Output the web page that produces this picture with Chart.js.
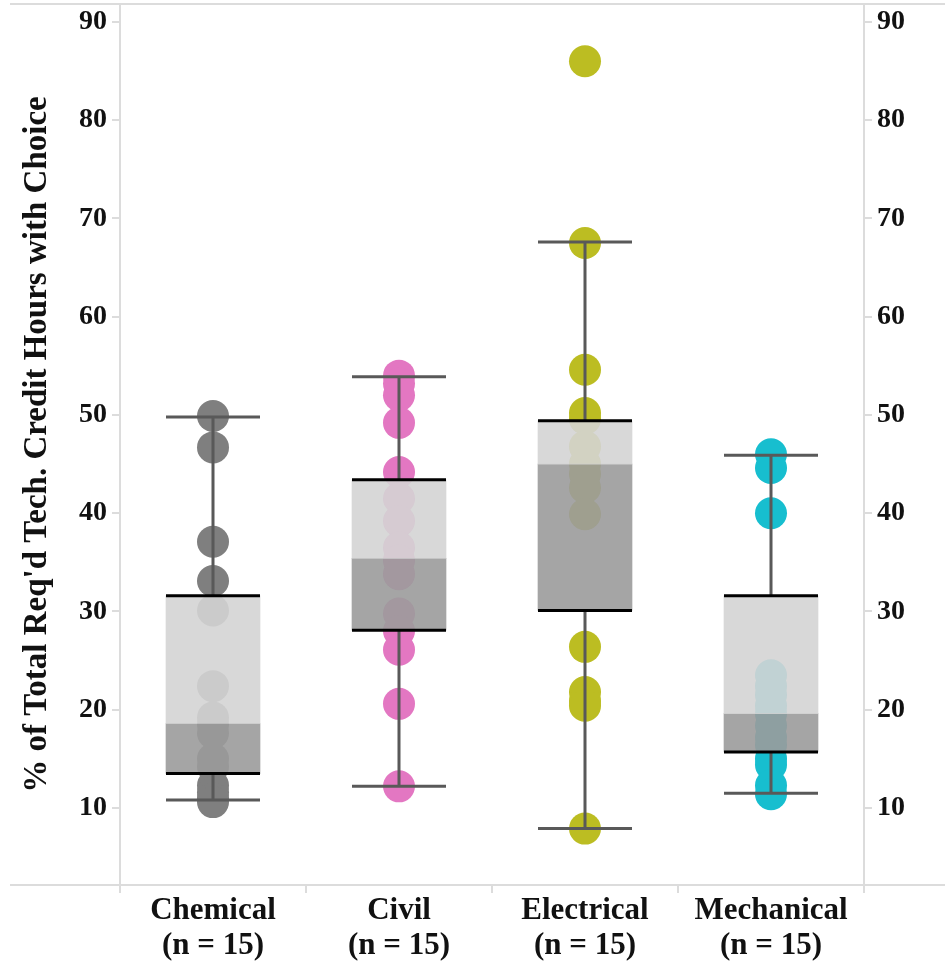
<!DOCTYPE html>
<html>
<head>
  <title>Tech Credit Hours with Choice</title>
  <script src="https://cdn.jsdelivr.net/npm/chart.js"></script>
  <style>
    body {
      margin: 0;
      background: #fff;
    }
    .chart-box {
      width: 945px;
      height: 968px;
    }
  </style>
</head>
<body>
  <div class="chart-box">
    <canvas id="boxChart"></canvas>
  </div>

  <script>
    // Data
    const categories = ['Chemical', 'Civil', 'Electrical', 'Mechanical'];
    const countLabels = ['(n = 15)', '(n = 15)', '(n = 15)', '(n = 15)'];
    const yTicks = [10, 20, 30, 40, 50, 60, 70, 80, 90];

    const chemicalPts = [49.9, 46.7, 37.1, 33.1, 30.1, 22.4, 19.2, 18.5, 17.6, 15.0, 14.2, 12.3, 11.6, 11.0, 10.6];
    const civilPts = [54.0, 53.2, 52.0, 49.2, 44.2, 41.5, 39.2, 36.5, 35.2, 33.8, 29.8, 28.0, 26.1, 20.6, 12.2];
    const electricalPts = [86.0, 67.5, 54.6, 50.2, 49.6, 46.8, 45.0, 44.0, 42.6, 39.9, 26.4, 21.8, 20.9, 20.4, 7.9];
    const mechanicalPts = [46.0, 44.6, 40.0, 23.5, 22.4, 21.5, 20.4, 19.6, 18.4, 17.2, 16.4, 15.0, 14.4, 12.3, 11.4];

    const whiskerHigh = [49.8, 53.9, 67.6, 45.9];
    const upperQuartile = [31.6, 43.4, 49.4, 31.6];
    const medians = [18.6, 35.4, 45.0, 19.6];
    const lowerQuartile = [13.5, 28.1, 30.1, 15.7];
    const whiskerLow = [10.8, 12.2, 7.9, 11.5];

    const pointSets = [chemicalPts, civilPts, electricalPts, mechanicalPts];
    const pointColors = ['#7f7f7f', '#e377c2', '#bcbd22', '#17becf'];

    const Y_MIN = 2.16;
    const Y_MAX = 91.83;
    const FRAME = '#dcdcdc';
    const serif = "'Liberation Serif', 'Times New Roman', serif";

    // point datasets, one per category
    const pointDatasets = categories.map((cat, i) => ({
      type: 'line',
      label: cat,
      data: pointSets[i].map(v => ({ x: cat, y: v })),
      showLine: false,
      pointRadius: 16,
      pointBorderWidth: 0,
      pointBackgroundColor: pointColors[i],
      backgroundColor: pointColors[i],
      clip: false,
      order: 2
    }));

    // box halves as floating bars
    const boxDatasets = [
      {
        label: 'upper',
        data: categories.map((c, i) => [medians[i], upperQuartile[i]]),
        backgroundColor: 'rgba(212, 212, 212, 0.9)',
        barThickness: 94,
        grouped: false,
        borderWidth: 0,
        order: 1
      },
      {
        label: 'lower',
        data: categories.map((c, i) => [lowerQuartile[i], medians[i]]),
        backgroundColor: 'rgba(155, 155, 155, 0.9)',
        barThickness: 94,
        grouped: false,
        borderWidth: 0,
        order: 1
      }
    ];

    // frame lines across the full width (top and bottom)
    const framePlugin = {
      id: 'frame',
      beforeDatasetsDraw(chart) {
        const { ctx, chartArea, width } = chart;
        ctx.save();
        ctx.strokeStyle = FRAME;
        ctx.lineWidth = 2;
        ctx.beginPath();
        ctx.moveTo(10, chartArea.top);
        ctx.lineTo(width, chartArea.top);
        ctx.moveTo(10, chartArea.bottom);
        ctx.lineTo(width, chartArea.bottom);
        ctx.stroke();
        ctx.restore();
      }
    };

    // whiskers, caps and quartile edges on top of everything
    const whiskerPlugin = {
      id: 'whiskers',
      afterDatasetsDraw(chart) {
        const { ctx } = chart;
        const y = chart.scales.y;
        const bars = chart.getDatasetMeta(chart.data.datasets.length - 2).data;
        ctx.save();
        ctx.lineCap = 'butt';
        categories.forEach((cat, i) => {
          const bar = bars[i];
          const x = bar.x;
          const half = bar.width / 2;
          const yHi = y.getPixelForValue(whiskerHigh[i]);
          const yQ3 = y.getPixelForValue(upperQuartile[i]);
          const yQ1 = y.getPixelForValue(lowerQuartile[i]);
          const yLo = y.getPixelForValue(whiskerLow[i]);

          ctx.strokeStyle = '#595959';
          ctx.lineWidth = 3;
          ctx.beginPath();
          ctx.moveTo(x, yHi);
          ctx.lineTo(x, yQ3);
          ctx.moveTo(x, yQ1);
          ctx.lineTo(x, yLo);
          ctx.moveTo(x - half, yHi);
          ctx.lineTo(x + half, yHi);
          ctx.moveTo(x - half, yLo);
          ctx.lineTo(x + half, yLo);
          ctx.stroke();

          ctx.strokeStyle = '#000';
          ctx.lineWidth = 3;
          ctx.beginPath();
          ctx.moveTo(x - half, yQ3);
          ctx.lineTo(x + half, yQ3);
          ctx.moveTo(x - half, yQ1);
          ctx.lineTo(x + half, yQ1);
          ctx.stroke();
        });
        ctx.restore();
      }
    };

    const setTicks = scale => {
      scale.ticks = yTicks.map(v => ({ value: v }));
    };

    const ctx = document.getElementById('boxChart').getContext('2d');

    new Chart(ctx, {
      type: 'bar',
      data: {
        labels: categories,
        datasets: [...pointDatasets, ...boxDatasets]
      },
      options: {
        responsive: true,
        maintainAspectRatio: false,
        animation: false,
        events: [],
        layout: {
          autoPadding: false,
          padding: { top: 4, left: 0, right: 0, bottom: 0 }
        },
        plugins: {
          legend: { display: false },
          tooltip: { enabled: false }
        },
        scales: {
          x: {
            offset: true,
            grid: {
              offset: true,
              drawOnChartArea: false,
              drawTicks: true,
              tickLength: 8,
              color: FRAME,
              lineWidth: 2
            },
            border: { display: false },
            ticks: {
              color: '#111',
              padding: 0,
              maxRotation: 0,
              autoSkip: false,
              font: { family: serif, size: 31, weight: 'bold', lineHeight: 1.13 },
              callback: (val, i) => [categories[i], countLabels[i]]
            },
            afterFit(scale) {
              scale.height = 83;
              scale.paddingLeft = 0;
              scale.paddingRight = 0;
            }
          },
          y: {
            position: 'left',
            min: Y_MIN,
            max: Y_MAX,
            afterBuildTicks: setTicks,
            grid: {
              drawOnChartArea: false,
              tickLength: 8,
              color: FRAME,
              lineWidth: 2
            },
            border: { color: FRAME, width: 2 },
            ticks: {
              color: '#111',
              padding: 5,
              font: { family: serif, size: 28, weight: 'bold' }
            },
            title: {
              display: true,
              text: "% of Total Req'd Tech. Credit Hours with Choice",
              color: '#111',
              padding: { top: 18, bottom: 0 },
              font: { family: serif, size: 33, weight: 'bold' }
            },
            afterFit(scale) {
              scale.width = 120;
              scale.paddingTop = 0;
              scale.paddingBottom = 0;
            }
          },
          y2: {
            position: 'right',
            min: Y_MIN,
            max: Y_MAX,
            afterBuildTicks: setTicks,
            grid: {
              drawOnChartArea: false,
              tickLength: 8,
              color: FRAME,
              lineWidth: 2
            },
            border: { color: FRAME, width: 2 },
            ticks: {
              color: '#111',
              padding: 5,
              font: { family: serif, size: 28, weight: 'bold' }
            },
            afterFit(scale) {
              scale.width = 81;
              scale.paddingTop = 0;
              scale.paddingBottom = 0;
            }
          }
        }
      },
      plugins: [framePlugin, whiskerPlugin]
    });
  </script>
</body>
</html>
